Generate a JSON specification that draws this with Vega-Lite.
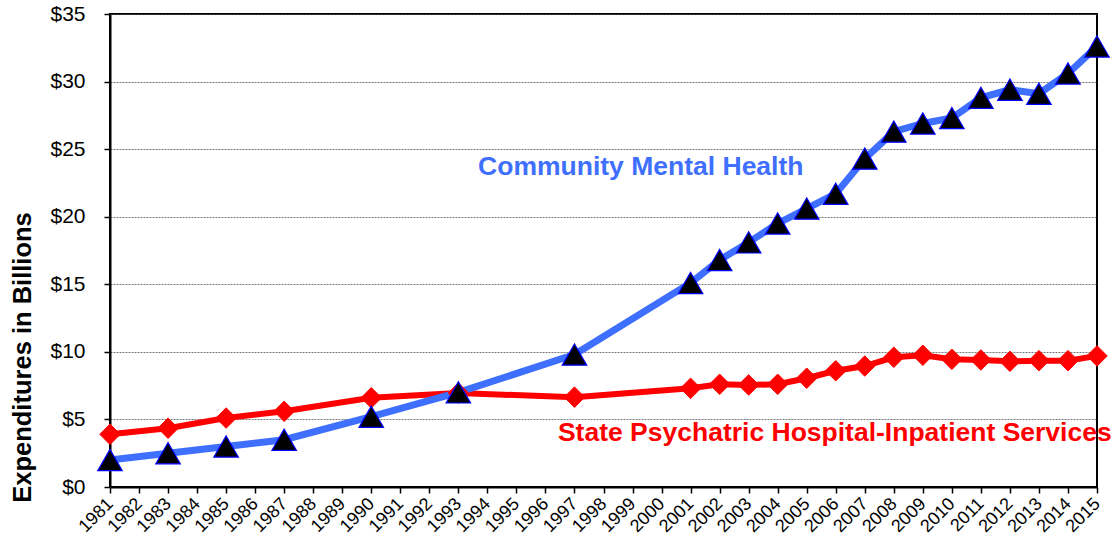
{
  "$schema": "https://vega.github.io/schema/vega-lite/v6.json",
  "width": 987,
  "height": 473,
  "autosize": {"type": "none"},
  "padding": {"left": 110, "top": 14, "right": 22, "bottom": 61},
  "background": "white",
  "config": {
    "font": "Liberation Sans",
    "view": {"stroke": "black", "strokeWidth": 2}
  },
  "datasets": {
    "main": [
      {"year": 1981, "series": "Community", "value": 2.0},
      {"year": 1983, "series": "Community", "value": 2.5},
      {"year": 1985, "series": "Community", "value": 3.0},
      {"year": 1987, "series": "Community", "value": 3.5},
      {"year": 1990, "series": "Community", "value": 5.2},
      {"year": 1993, "series": "Community", "value": 7.0},
      {"year": 1997, "series": "Community", "value": 9.8},
      {"year": 2001, "series": "Community", "value": 15.1},
      {"year": 2002, "series": "Community", "value": 16.8},
      {"year": 2003, "series": "Community", "value": 18.1},
      {"year": 2004, "series": "Community", "value": 19.5},
      {"year": 2005, "series": "Community", "value": 20.6},
      {"year": 2006, "series": "Community", "value": 21.7},
      {"year": 2007, "series": "Community", "value": 24.3},
      {"year": 2008, "series": "Community", "value": 26.3},
      {"year": 2009, "series": "Community", "value": 26.9},
      {"year": 2010, "series": "Community", "value": 27.3},
      {"year": 2011, "series": "Community", "value": 28.8},
      {"year": 2012, "series": "Community", "value": 29.4},
      {"year": 2013, "series": "Community", "value": 29.1},
      {"year": 2014, "series": "Community", "value": 30.6},
      {"year": 2015, "series": "Community", "value": 32.6},
      {"year": 1981, "series": "State", "value": 3.9},
      {"year": 1983, "series": "State", "value": 4.35},
      {"year": 1985, "series": "State", "value": 5.1},
      {"year": 1987, "series": "State", "value": 5.6},
      {"year": 1990, "series": "State", "value": 6.6},
      {"year": 1993, "series": "State", "value": 6.95},
      {"year": 1997, "series": "State", "value": 6.65},
      {"year": 2001, "series": "State", "value": 7.3},
      {"year": 2002, "series": "State", "value": 7.6},
      {"year": 2003, "series": "State", "value": 7.55},
      {"year": 2004, "series": "State", "value": 7.6},
      {"year": 2005, "series": "State", "value": 8.05},
      {"year": 2006, "series": "State", "value": 8.6},
      {"year": 2007, "series": "State", "value": 8.95},
      {"year": 2008, "series": "State", "value": 9.6},
      {"year": 2009, "series": "State", "value": 9.75},
      {"year": 2010, "series": "State", "value": 9.45},
      {"year": 2011, "series": "State", "value": 9.4},
      {"year": 2012, "series": "State", "value": 9.3},
      {"year": 2013, "series": "State", "value": 9.35},
      {"year": 2014, "series": "State", "value": 9.35},
      {"year": 2015, "series": "State", "value": 9.7}
    ],
    "labels": [
      {"year": 1993.68, "value": 23.7, "text": "Community Mental Health", "series": "Community"},
      {"year": 1996.43, "value": 4.0, "text": "State Psychatric Hospital-Inpatient Services", "series": "State"}
    ]
  },
  "encoding": {
    "x": {
      "field": "year", "type": "quantitative",
      "scale": {"domain": [1981, 2015], "nice": false, "zero": false},
      "axis": {
        "title": null,
        "values": [1981,1982,1983,1984,1985,1986,1987,1988,1989,1990,1991,1992,1993,1994,1995,1996,1997,1998,1999,2000,2001,2002,2003,2004,2005,2006,2007,2008,2009,2010,2011,2012,2013,2014,2015],
        "format": "d",
        "labelAngle": -45,
        "labelAlign": "right",
        "labelBaseline": "middle",
        "labelFontSize": 18,
        "labelColor": "black",
        "labelPadding": 8,
        "labelOverlap": false,
        "labelFlush": false,
        "labelBound": false,
        "domainColor": "black",
        "domainWidth": 2,
        "tickColor": "black",
        "tickWidth": 1.5,
        "tickSize": 6,
        "grid": false
      }
    },
    "y": {
      "field": "value", "type": "quantitative",
      "scale": {"domain": [0, 35], "nice": false},
      "axis": {
        "title": "Expenditures in Billions",
        "titleFontSize": 25.5,
        "titleFontWeight": "bold",
        "titleColor": "black",
        "titleX": -88,
        "titleY": 343,
        "titleAngle": -90,
        "titleAlign": "center",
        "titleBaseline": "middle",
        "values": [0, 5, 10, 15, 20, 25, 30, 35],
        "labelExpr": "'$' + datum.value",
        "labelFontSize": 21,
        "labelColor": "black",
        "labelPadding": 19,
        "tickSize": 6,
        "tickColor": "black",
        "tickWidth": 1.5,
        "domainColor": "black",
        "domainWidth": 2,
        "grid": true,
        "gridColor": "#555555",
        "gridDash": [2, 1],
        "gridWidth": 0.8
      }
    }
  },
  "layer": [
    {
      "data": {"name": "main"},
      "transform": [{"filter": "datum.series === 'State'"}],
      "mark": {"type": "line", "color": "#FF0000", "strokeWidth": 6},
      "encoding": {}
    },
    {
      "data": {"name": "main"},
      "transform": [{"filter": "datum.series === 'Community'"}],
      "mark": {"type": "line", "color": "#3F6FFF", "strokeWidth": 7},
      "encoding": {}
    },
    {
      "data": {"name": "main"},
      "transform": [{"filter": "datum.series === 'State'"}],
      "mark": {"type": "point", "shape": "diamond", "filled": true, "fill": "#FF0000", "stroke": "#FF0000", "strokeWidth": 1, "size": 420, "opacity": 1},
      "encoding": {}
    },
    {
      "data": {"name": "main"},
      "transform": [{"filter": "datum.series === 'Community'"}],
      "mark": {"type": "point", "shape": "triangle-up", "filled": true, "fill": "black", "stroke": "#0000FF", "strokeWidth": 1.2, "size": 600, "opacity": 1},
      "encoding": {}
    },
    {
      "data": {"name": "labels"},
      "mark": {"type": "text", "align": "left", "baseline": "middle", "fontSize": 26.5, "fontWeight": "bold"},
      "encoding": {
        "text": {"field": "text"},
        "color": {"field": "series", "type": "nominal", "scale": {"domain": ["Community", "State"], "range": ["#3F6FFF", "#FF0000"]}, "legend": null}
      }
    }
  ]
}
